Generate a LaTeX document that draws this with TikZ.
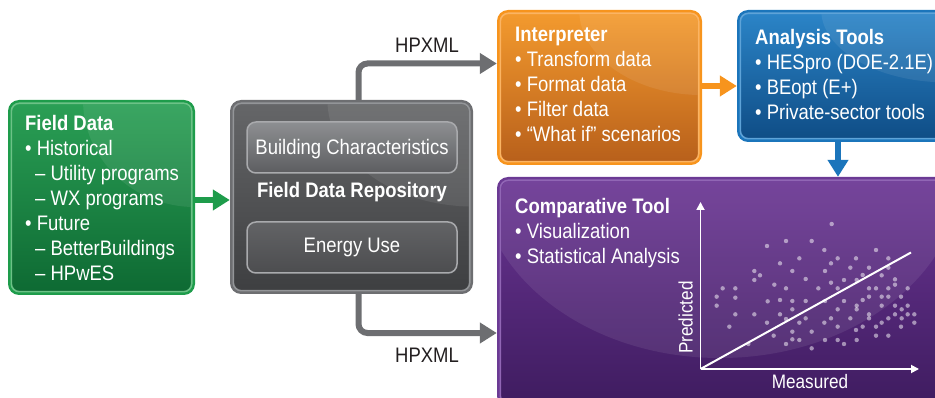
\documentclass[tikz,border=0pt]{standalone}
\usepackage{fontspec}
\setmainfont{Liberation Sans}[FakeStretch=0.88]
\usetikzlibrary{arrows.meta,calc}
\definecolor{gOut}{HTML}{1E9C4B}\definecolor{gIn}{HTML}{6CC287}\definecolor{gTop}{HTML}{2A9F55}\definecolor{gBot}{HTML}{0E6A33}
\definecolor{kOut}{HTML}{6D6E71}\definecolor{kIn}{HTML}{939598}\definecolor{kTop}{HTML}{656668}\definecolor{kBot}{HTML}{3E3F41}
\definecolor{oOut}{HTML}{F7941D}\definecolor{oIn}{HTML}{FBB463}\definecolor{oTop}{HTML}{F39A2E}\definecolor{oBot}{HTML}{B8601B}
\definecolor{bOut}{HTML}{1B75BB}\definecolor{bIn}{HTML}{5EA3D8}\definecolor{bTop}{HTML}{2B84C7}\definecolor{bBot}{HTML}{0F4D86}
\definecolor{pOut}{HTML}{6B3A94}\definecolor{pIn}{HTML}{9166B5}\definecolor{pTop}{HTML}{6A3593}\definecolor{pBot}{HTML}{3F1C60}
\definecolor{conGray}{HTML}{6D6E71}\definecolor{labGray}{HTML}{231F20}
\newcommand\boxfill[4]{%
  \shade[rounded corners=8pt, top color=#3, bottom color=#4, draw=#2, line width=1.6pt]
    ([shift={(3.5,3.5)}]#1.north west) rectangle ([shift={(-3.5,-3.5)}]#1.south east);
  \begin{scope}
    \clip[rounded corners=8pt] ([shift={(4.5,4.5)}]#1.north west) rectangle ([shift={(-4.5,-4.5)}]#1.south east);
    \fill[white, opacity=0.08] (#1.north east) ellipse [x radius=0.6*\boxw, y radius=0.55*\boxh];
  \end{scope}}
\begin{document}
\begin{tikzpicture}[x=1pt,y=-1pt,
  outerbox/.style={inner sep=0pt, rounded corners=11pt},
  btxt/.style={text=white, align=left, anchor=north west, inner sep=0pt, font=\fontsize{21}{25}\selectfont},
  ctxt/.style={text=white, anchor=base, inner sep=0pt, font=\fontsize{21}{25}\selectfont},
  lab/.style={text=labGray, anchor=base, inner sep=0pt, font=\fontsize{21}{24}\selectfont},
  conn/.style={line width=6pt, -{Triangle[length=17pt,width=20pt]}},
  axis/.style={white, line width=1.8pt, -{Triangle[length=8pt,width=8pt]}},
  subbox/.style={inner sep=0pt, rounded corners=9pt, minimum width=210pt, minimum height=51pt, line width=1.5pt}]
\useasboundingbox (0,0) rectangle (935,398);
\clip (0,0) rectangle (935,398);
% ---- boxes
\node[outerbox, fill=gOut, minimum width=187pt, minimum height=195pt] (fd) at (101.5,197.5) {};
\def\boxw{187}\def\boxh{195}\boxfill{fd}{gIn}{gTop}{gBot}
\node[outerbox, fill=kOut, minimum width=243pt, minimum height=194pt] (repo) at (351.5,197) {};
\def\boxw{243}\def\boxh{194}\boxfill{repo}{kIn}{kTop}{kBot}
\node[outerbox, fill=oOut, minimum width=205pt, minimum height=155pt] (interp) at (599.5,87.5) {};
\def\boxw{205}\def\boxh{155}\boxfill{interp}{oIn}{oTop}{oBot}
\node[outerbox, fill=bOut, minimum width=210pt, minimum height=132pt] (anal) at (842,76) {};
\def\boxw{210}\def\boxh{132}\boxfill{anal}{bIn}{bTop}{bBot}
\node[outerbox, fill=pOut, minimum width=450pt, minimum height=230pt] (comp) at (722,292) {};
\begin{scope}
\shade[rounded corners=8pt, top color=pTop, bottom color=pBot, draw=pIn, line width=1.6pt]
  ([shift={(3.5,3.5)}]comp.north west) rectangle ([shift={(-3.5,-3.5)}]comp.south east);
\clip[rounded corners=8pt] ([shift={(4.5,4.5)}]comp.north west) rectangle ([shift={(-4.5,-4.5)}]comp.south east);
\fill[white, opacity=0.08] (720,170) ellipse [x radius=242, y radius=188];
\end{scope}
% ---- repository sub boxes
\node[subbox, draw=kIn!80!white, top color=kIn!85!kOut, bottom color=kOut!85!black] (bc) at (352,147.5) {};
\node[subbox, draw=kIn!80!white, top color=kOut!90!black, bottom color=kOut!70!black] (eu) at (352,247.5) {};
% ---- texts
\node[btxt] (fdt) at (25,112.5) {\strut\textbf{Field Data}\\• Historical\\\hspace*{10pt}– Utility programs\\\hspace*{10pt}– WX programs\\• Future\\\hspace*{10pt}– BetterBuildings\\\hspace*{10pt}– HPwES};
\node[btxt] (intt) at (515,23.5) {\strut\textbf{Interpreter}\\• Transform data\\• Format data\\• Filter data\\• “What if” scenarios};
\node[btxt] (analt) at (755,26.5) {\strut\textbf{Analysis Tools}\\• HESpro (DOE-2.1E)\\• BEopt (E+)\\• Private-sector tools};
\node[btxt] (compt) at (515,195.5) {\strut\textbf{Comparative Tool}\\• Visualization\\• Statistical Analysis};
\node[ctxt] (bct) at (352,155) {Building Characteristics};
\node[ctxt] (repot) at (352,198) {\textbf{Field Data Repository}};
\node[ctxt] (eut) at (352,253) {Energy Use};
% ---- connectors
\draw[conn, gOut] ([yshift=-2.5pt]fd.east) -- ([yshift=-2.5pt]fd.east -| repo.west);
\draw[conn, oOut] ([yshift=1.5pt]interp.east) -- ([yshift=1.5pt]interp.east -| anal.west);
\draw[conn, bOut] ([xshift=-4pt]anal.south) -- ([xshift=-4pt]anal.south |- comp.north);
\draw[conn, conGray, rounded corners=9pt] ([xshift=7pt]repo.north) |- ([yshift=24pt]interp.west);
\draw[conn, conGray, rounded corners=9pt] ([xshift=7pt]repo.south) |- ([yshift=-41pt]comp.west);
\node[lab] (hp1) at (427,53) {HPXML};
\node[lab] (hp2) at (427,362) {HPXML};
% ---- plot
\coordinate (O) at (700.5,369);
\coordinate (Ytop) at (700.5,202);
\coordinate (Xend) at (919,369);
\coordinate (Rend) at (911,252.5);
\foreach \a/\b in {1025/162,888/213,965/213,831/228,1003/240,1158/240,928/265,1043/265,1098/265,1195/265,
  870/280,1023/280,1081/293,1137/293,1195/293,793/303,907/303,1005/303,1118/315,810/316,1175/316,
  793/330,947/327,1062/330,1100/330,1215/328,853/344,1023/338,1215/344,
  698/355,736/355,888/355,985/355,1043/355,1137/355,1158/355,1195/355,1253/355,
  680/380,736/383,1137/380,1175/380,1195/380,1233/380,
  833/394,870/390,907/393,947/393,1005/393,1062/393,1118/390,
  680/407,1100/407,1175/407,1215/407,1253/407,907/418,1043/418,1100/418,1235/418,
  736/433,793/433,870/433,947/445,1137/433,1215/433,1253/433,1273/433,
  888/447,1023/445,1081/445,1137/445,1195/445,1235/445,
  718/470,831/458,928/458,1003/458,1158/470,1175/458,1233/470,1273/458,
  965/485,1118/470,851/497,907/485,1043/470,1098/480,1195/497,1158/497,
  775/522,888/522,907/508,928/510,1005/510,1043/510,1062/522,1100/510,965/535}
  \fill[white, opacity=0.5] (490+\a/3, 170+\b/3) circle (2.2pt);
\draw[axis] (O) -- (Ytop);
\draw[axis] (O) -- (Xend);
\draw[white, line width=2pt] (O) -- (Rend);
\node[ctxt, rotate=90, font=\fontsize{19.5}{22}\selectfont] (pred) at (692.5,317.5) {Predicted};
\node[ctxt, font=\fontsize{19.5}{22}\selectfont] (meas) at (810,388) {Measured};
\end{tikzpicture}
\end{document}
